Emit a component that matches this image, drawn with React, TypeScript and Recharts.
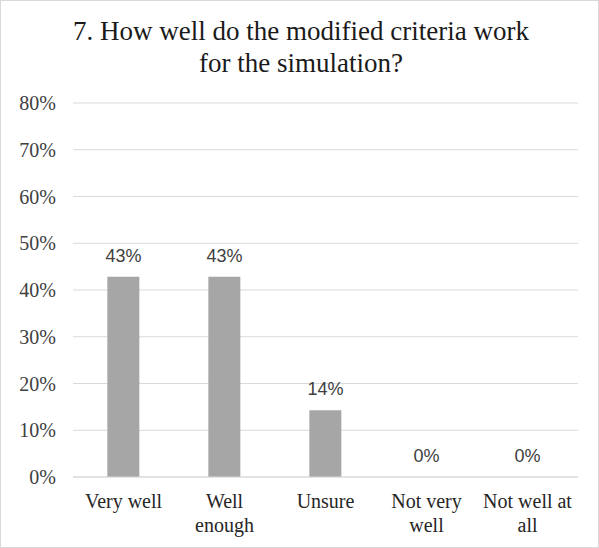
import React from 'react';
import { ComposedChart, Bar, Line, XAxis, YAxis, CartesianGrid, LabelList } from 'recharts';

const categories = ['Very well', 'Well enough', 'Unsure', 'Not very well', 'Not well at all'];
const tickLines = [['Very well'], ['Well', 'enough'], ['Unsure'], ['Not very', 'well'], ['Not well at', 'all']];
const shares = [42.86, 42.86, 14.29, 0, 0];
const yTicks = [0, 10, 20, 30, 40, 50, 60, 70, 80];

const data = categories.map((name, i) => ({ name, value: shares[i] }));

const SERIF = 'Liberation Serif, Times New Roman, serif';
const SANS = 'Liberation Sans, Arial, sans-serif';

const CategoryTick = (props: any) => {
  const { x, y, payload } = props;
  const lines = tickLines[payload.index] || [payload.value];
  return (
    <g transform={`translate(${x},${y})`}>
      {lines.map((line, i) => (
        <text key={i} x={0} y={23 + i * 24} textAnchor="middle" fill="#262626" fontFamily={SERIF} fontSize={20}>
          {line}
        </text>
      ))}
    </g>
  );
};

const PercentTick = (props: any) => {
  const { x, y, payload } = props;
  return (
    <text x={x} y={y} dy={7} textAnchor="end" fill="#404040" fontFamily={SERIF} fontSize={20}>
      {`${payload.value}%`}
    </text>
  );
};

export default function App() {
  return (
    <div
      style={{
        position: 'absolute',
        left: 0,
        top: 0,
        width: 597,
        height: 546,
        border: '1px solid #d9d9d9',
        background: '#fff',
      }}
    >
      <ComposedChart
        width={597}
        height={546}
        data={data}
        margin={{ top: 102, right: 20, bottom: 0, left: 0 }}
        barCategoryGap="34%"
      >
        <text x={300} y={39} textAnchor="middle" fill="#1a1a1a" fontFamily={SERIF} fontSize={27}>
          7. How well do the modified criteria work
        </text>
        <text x={300} y={71} textAnchor="middle" fill="#1a1a1a" fontFamily={SERIF} fontSize={27}>
          for the simulation?
        </text>
        <CartesianGrid vertical={false} stroke="#d9d9d9" />
        <XAxis
          dataKey="name"
          interval={0}
          tick={<CategoryTick />}
          tickLine={false}
          axisLine={{ stroke: '#d9d9d9' }}
          height={70}
        />
        <YAxis
          domain={[0, 80]}
          ticks={yTicks}
          tick={<PercentTick />}
          axisLine={false}
          tickLine={false}
          width={72}
          tickMargin={11}
        />
        <Bar dataKey="value" fill="#a6a6a6" isAnimationActive={false} />
        <Line dataKey="value" stroke="none" dot={false} activeDot={false} isAnimationActive={false}>
          <LabelList
            dataKey="value"
            position="top"
            offset={15}
            formatter={(v: any) => `${Math.round(Number(v))}%`}
            style={{ fill: '#404040', fontFamily: SANS, fontSize: 18 }}
          />
        </Line>
      </ComposedChart>
    </div>
  );
}
